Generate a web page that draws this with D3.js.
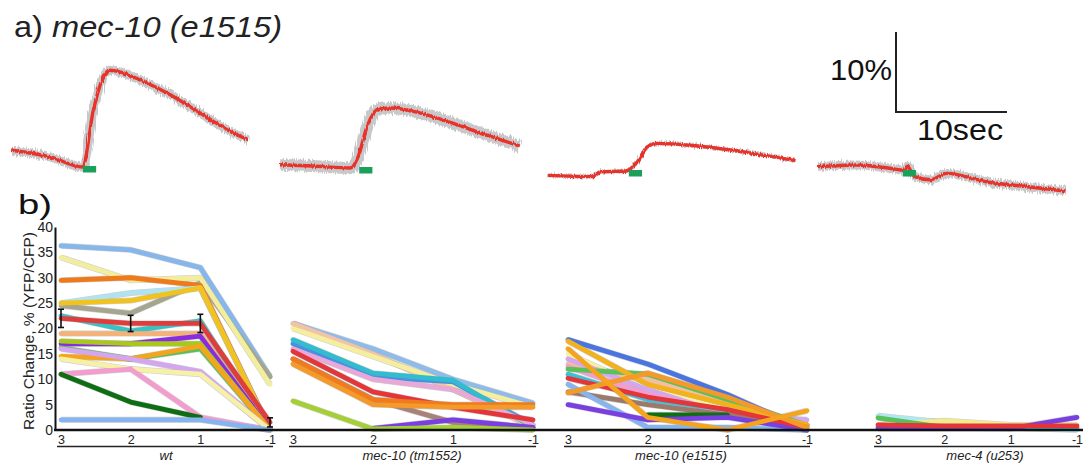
<!DOCTYPE html>
<html><head><meta charset="utf-8">
<script src="https://cdn.jsdelivr.net/npm/d3@7"></script>
<style>
body{margin:0;background:#fff;}
svg{display:block;font-family:"Liberation Sans",Arial,sans-serif;}
</style></head><body>
<div id="chart"></div>
<script>
// ---- part a: mean traces, [time (s), ratio change (%)]
var trace1 = [[0,2.1],[3.5,1.25],[6.4,0],[7.4,7.1],[8.3,11.25],[8.9,12.1],[9.8,11.9],[11.6,10.9],[14.1,9.25],[17.1,6.75],[20.1,4.25],[21.5,3.4]];
var trace2 = [[0,0.4],[3,0.25],[6.4,0],[7.1,1.4],[7.9,5.1],[8.8,7.25],[10,7.5],[12.7,6.9],[15.7,5.6],[18.8,4.1],[21.8,2.75]];
var trace3 = [[0,-0.55],[4,-0.7],[4.8,-0.1],[7.1,0],[8.1,1.1],[9,3],[9.9,3.45],[13.4,3.15],[18.1,2.3],[22.5,1.3]];
var trace4 = [[0,0.55],[3.5,0.75],[6.5,0.35],[7.9,0.1],[8.1,0.6],[8.8,-0.7],[10.2,-1.1],[11.7,-0.3],[15.5,-1.4],[18.7,-1.9],[22.5,-2.5]];
var stimOnset = [6.45, 7.2, 7.35, 7.7];
var stimLength = 1.2;

// ---- part b: ratio change per position, one array per animal
var positions = ["3", "2", "1", "-1"];
var groups = ["wt", "mec-10 (tm1552)", "mec-10 (e1515)", "mec-4 (u253)"];
var yTicks = [0, 5, 10, 15, 20, 25, 30, 35, 40];

var wtSeries = [
  [36.3, 35.5, 32, 10.5],
  [24.5, 23, 29, 10.5],
  [34, 29.5, 30, 9],
  [29.5, 30, 28.5, 0],
  [25, 27, 28, 0],
  [25, 25.5, 28, 0],
  [22.5, 19.5, 21.5, 0],
  [19, 19, 19, 0],
  [17, 17, 18.5, 0],
  [17.5, 17, 17, 0],
  [16.2, 14, 16, 0],
  [14.5, 14, 16.5, 0],
  [16, 14, 11.5, 0],
  [14, 12, 11, 0],
  [11, 12, 2.5, 0],
  [11, 5.5, 2.5, null],
  [2, 2, 2, 0],
  [22, 21, 21, 1.5]
];
var wtMean = [22, 21, 21, 1.5];
var wtErr = [1.8, 1.6, 1.8, 0.9];

var tmSeries = [
  [21, 16, 10, 5.3],
  [21, 15, 8, 0.5],
  [20, 14.5, 9, 4.5],
  [17, 10.5, 9.5, 1],
  [17.8, 11.2, 9.8, 0.5],
  [16, 10, 8, 1],
  [14, 6, 1.5, 0.5],
  [null, 0.3, 2, 0.5],
  [5.7, 0.2, 0.5, 0],
  [15.5, 7.5, 4.5, 2],
  [14, 6, 5, 5],
  [13, 5, 4.5, 4.5]
];

var e1515Series = [
  [15, 8, 4, 0],
  [13, 10, 5, 1],
  [14, 8, 3, 2],
  [12.5, 7, 3.5, 0],
  [11, 6, 4, 0],
  [12, 11, 6, 1],
  [7.5, 5, 3, 1],
  [9, 0.5, 0.5, 0],
  [null, 3, 3, null],
  [5, 2, 2.5, 0],
  [17.8, 13, 7, 0],
  [17.5, 9, 5, 1],
  [10.2, 6.5, 4, 0.5],
  [7.3, 11.2, 6.5, 0.5],
  [16, 2.5, 0, 3.8]
];

var u253Series = [
  [2.8, 1.5, 0.5, 0],
  [1, 1.8, 1, 1],
  [2.4, 0.5, 0.5, 0.5],
  [0.3, 0.3, 0.3, 0.3],
  [0.5, 0.5, 0.3, 2.5],
  [1, 0.8, 0.8, 0.8]
];

// line colours (by series index)
var wtColors = ["#86b6ea","#a6a690","#f3ee9c","#ef7a1c","#aee3f2","#f2c21e","#3cc0c4","#f2b27a","#8a2be2","#a8c81e","#59c15a","#f5a41e","#d4a6f0","#f6f1a6","#f49ccd","#0e6e14","#86b4ee","#e03c3c"];
var tmColors = ["#8fbbe8","#f2c3a4","#f4ee9e","#4a8fe0","#33bccd","#e8a8d8","#a88276","#7a3fe0","#a4d036","#e2363a","#f07a1e","#f39a2a"];
var e1515Colors = ["#f6f0a8","#f2c0a0","#d4a6f0","#f49ccd","#3cc0d8","#59c15a","#9a7a6a","#86b4ee","#0e6e14","#7a3fe0","#4a74e0","#f2b21e","#e2363a","#f39a2a","#f5a41e"];
var u253Colors = ["#aee8f2","#f2ec8a","#59c15a","#3cb4d0","#7a3fe0","#e2363a"];

var W = 1083, H = 463;
var svg = d3.select("#chart").append("svg").attr("width", W).attr("height", H);

var defs = svg.append("defs");
function jitter(id, freq, amount, seed) {
  var f = defs.append("filter").attr("id", id)
    .attr("x", "-5%").attr("y", "-30%").attr("width", "110%").attr("height", "160%");
  f.append("feTurbulence").attr("type", "fractalNoise").attr("baseFrequency", freq)
    .attr("numOctaves", 2).attr("seed", seed).attr("result", "n");
  f.append("feDisplacementMap").attr("in", "SourceGraphic").attr("in2", "n")
    .attr("scale", amount).attr("xChannelSelector", "R").attr("yChannelSelector", "G");
}
jitter("bandNoise", "1.1 0.02", 7, 4);
jitter("lineNoise", "0.9 0.04", 3.5, 9);

// ---------- a) traces
svg.append("text").attr("x", 14).attr("y", 37).attr("font-size", 29).attr("fill", "#222")
  .attr("textLength", 268).attr("lengthAdjust", "spacingAndGlyphs")
  .html('a) <tspan font-style="italic">mec-10 (e1515)</tspan>');

var tx = d3.scaleLinear().domain([0, 10]).range([0, 110]);
var ty = d3.scaleLinear().domain([0, 10]).range([0, -80]);
var traces = [trace1, trace2, trace3, trace4];
var origins = [[12, 167], [280, 168], [548, 171], [818, 171]];
var bandW = [9, 12, 4, 9];
var tline = d3.line().x(d => tx(d[0])).y(d => ty(d[1])).curve(d3.curveMonotoneX);

traces.forEach(function(tr, i) {
  var g = svg.append("g").attr("transform", "translate(" + origins[i][0] + "," + origins[i][1] + ")");
  g.append("path").attr("d", tline(tr)).attr("fill", "none").attr("stroke", "#c6c8ca")
    .attr("stroke-width", bandW[i]).attr("filter", "url(#bandNoise)");
  g.append("path").attr("d", tline(tr)).attr("fill", "none").attr("stroke", "#e8302a")
    .attr("stroke-width", 3.4).attr("stroke-linejoin", "round").attr("filter", "url(#lineNoise)");
  g.append("rect").attr("x", tx(stimOnset[i])).attr("y", -1)
    .attr("width", tx(stimLength)).attr("height", 6.5).attr("fill", "#1aa05a");
});

// scale bar
svg.append("path").attr("d", "M896,32V112H1007").attr("fill", "none").attr("stroke", "#222").attr("stroke-width", 2);
svg.append("text").attr("x", 830).attr("y", 80).attr("font-size", 30).attr("fill", "#111")
  .attr("textLength", 62).attr("lengthAdjust", "spacingAndGlyphs").text("10%");
svg.append("text").attr("x", 917).attr("y", 140).attr("font-size", 30).attr("fill", "#111")
  .attr("textLength", 86).attr("lengthAdjust", "spacingAndGlyphs").text("10sec");

// ---------- b) per-position summary
svg.append("text").attr("x", 18).attr("y", 214).attr("font-size", 28).attr("fill", "#111")
  .attr("textLength", 34).attr("lengthAdjust", "spacingAndGlyphs").text("b)");

var y = d3.scaleLinear().domain([0, 40]).range([430, 227]);
var yAxis = svg.append("g").attr("transform", "translate(55,0)")
  .call(d3.axisLeft(y).tickValues(yTicks).tickSize(0).tickPadding(2));
yAxis.select(".domain").attr("stroke", "#111").attr("stroke-width", 2);
yAxis.selectAll("text").attr("font-size", 14).attr("fill", "#222").attr("font-family", "Liberation Sans, Arial, sans-serif");

svg.append("text").attr("transform", "translate(34,331) rotate(-90)").attr("text-anchor", "middle")
  .attr("font-size", 14).attr("fill", "#222")
  .attr("textLength", 198).attr("lengthAdjust", "spacingAndGlyphs").text("Ratio Change, % (YFP/CFP)");

var groupRanges = [[61, 270], [293, 533], [568, 807], [878, 1077]];
var labelCenters = [166, 412, 681, 985];
var allSeries = [wtSeries, tmSeries, e1515Series, u253Series];
var allColors = [wtColors, tmColors, e1515Colors, u253Colors];

allSeries.forEach(function(series, gi) {
  var x = d3.scalePoint().domain(positions).range(groupRanges[gi]);
  var line = d3.line().defined(d => d != null)
    .x((d, j) => x(positions[j])).y(d => y(d));
  var g = svg.append("g");
  g.selectAll(".edge").data(series).enter().append("path")
    .attr("d", line).attr("fill", "none").attr("stroke", "#666").attr("stroke-opacity", 0.3)
    .attr("stroke-width", 6).attr("stroke-linejoin", "round");
  g.selectAll(".ln").data(series).enter().append("path")
    .attr("d", line).attr("fill", "none")
    .attr("stroke", (d, k) => allColors[gi][k])
    .attr("stroke-width", 4.8).attr("stroke-linejoin", "round").attr("stroke-linecap", "round");

  if (gi == 0) {
    // error bars on the wild-type mean
    var eb = g.selectAll(".eb").data(wtMean).enter().append("g");
    eb.append("line").attr("x1", (d, j) => x(positions[j])).attr("x2", (d, j) => x(positions[j]))
      .attr("y1", (d, j) => y(d - wtErr[j])).attr("y2", (d, j) => y(d + wtErr[j]))
      .attr("stroke", "#111").attr("stroke-width", 1.6);
    [-1, 1].forEach(function(s) {
      eb.append("line").attr("x1", (d, j) => x(positions[j]) - 3).attr("x2", (d, j) => x(positions[j]) + 3)
        .attr("y1", (d, j) => y(d + s * wtErr[j])).attr("y2", (d, j) => y(d + s * wtErr[j]))
        .attr("stroke", "#111").attr("stroke-width", 1.6);
    });
  }

  var ax = svg.append("g").attr("transform", "translate(0,430)")
    .call(d3.axisBottom(x).tickSize(0).tickPadding(5));
  ax.select(".domain").remove();
  ax.selectAll("text").attr("font-size", 12.5).attr("fill", "#222").attr("font-family", "Liberation Sans, Arial, sans-serif");

  svg.append("line").attr("x1", groupRanges[gi][0] - 4).attr("x2", Math.min(groupRanges[gi][1] + 3, W))
    .attr("y1", 446.5).attr("y2", 446.5).attr("stroke", "#222").attr("stroke-width", 1.4);
  svg.append("text").attr("x", labelCenters[gi]).attr("y", 460)
    .attr("text-anchor", "middle").attr("font-size", 13).attr("font-style", "italic").attr("fill", "#222")
    .text(groups[gi]);
});

// baseline across the whole panel
svg.append("line").attr("x1", 54).attr("x2", W).attr("y1", 430).attr("y2", 430)
  .attr("stroke", "#111").attr("stroke-width", 2.4);
</script>
</body></html>
